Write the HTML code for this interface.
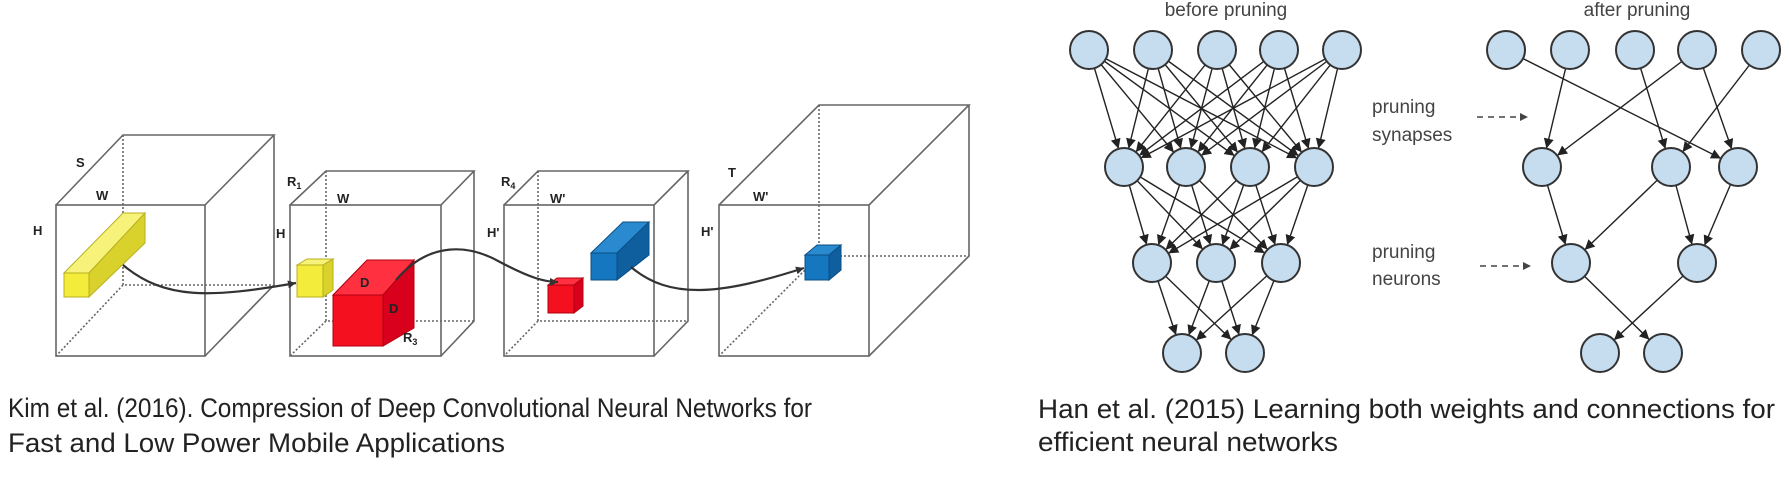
<!DOCTYPE html>
<html><head><meta charset="utf-8"><style>
html,body{margin:0;padding:0;background:#fff;}
svg{display:block;}
</style></head><body>
<svg width="1789" height="477" viewBox="0 0 1789 477" xmlns="http://www.w3.org/2000/svg">
<defs>
<marker id="a" markerUnits="userSpaceOnUse" markerWidth="40" markerHeight="12" refX="29" refY="5" orient="auto"><path d="M0,0 L10,5 L0,10 z" fill="#222"/></marker>
<marker id="b" markerUnits="userSpaceOnUse" markerWidth="12" markerHeight="12" refX="8" refY="4" orient="auto"><path d="M0,0 L8,4 L0,8 z" fill="#333"/></marker>
</defs>
<rect width="1789" height="477" fill="#fff"/>

<!-- cubes -->
<g fill="none" stroke="#666" stroke-width="1.6">
 <!-- cube1 -->
 <rect x="56" y="205" width="149" height="151"/>
 <path d="M56,205 L123,135 L274,135 L205,205 M274,135 L274,285 L205,356"/>
 <path d="M123,135 L123,285 L274,285 M123,285 L56,356" stroke-dasharray="2,2"/>
 <!-- cube2 -->
 <rect x="290" y="205" width="151" height="151"/>
 <path d="M290,205 L326,171 L474,171 L441,205 M474,171 L474,321 L441,356"/>
 <path d="M326,171 L326,321 L474,321 M326,321 L290,356" stroke-dasharray="2,2"/>
 <!-- cube3 -->
 <rect x="504" y="205" width="150" height="151"/>
 <path d="M504,205 L538,171 L688,171 L654,205 M688,171 L688,321 L654,356"/>
 <path d="M538,171 L538,321 L688,321 M538,321 L504,356" stroke-dasharray="2,2"/>
 <!-- cube4 -->
 <rect x="719" y="205" width="150" height="151"/>
 <path d="M719,205 L819,105 L969,105 L869,205 M969,105 L969,256 L869,356"/>
 <path d="M819,105 L819,256 L969,256 M819,256 L719,356" stroke-dasharray="2,2"/>
</g>

<!-- yellow bar -->
<g stroke="#b8b020" stroke-width="1">
 <polygon points="64,273 123,213 145,213 89,273" fill="#f7f27a"/>
 <polygon points="89,273 145,213 145,243 89,297" fill="#d9d22c"/>
 <rect x="64" y="273" width="25" height="24" fill="#f3ec3a"/>
</g>
<!-- small yellow -->
<g stroke="#b8b020" stroke-width="1">
 <polygon points="297,265 307,259 333,259 323,265" fill="#f7f27a"/>
 <polygon points="323,265 333,259 333,290 323,297" fill="#d9d22c"/>
 <rect x="297" y="265" width="26" height="32" fill="#f3ec3a"/>
</g>
<!-- big red -->
<g stroke="#b00010" stroke-width="1">
 <polygon points="333,295 367,260 414,260 383,295" fill="#ff3040"/>
 <polygon points="383,295 414,260 414,328 383,346" fill="#d8001c"/>
 <rect x="333" y="295" width="50" height="51" fill="#f5101f"/>
</g>
<!-- small red -->
<g stroke="#b00010" stroke-width="1">
 <polygon points="548,285 557,278 583,278 574,285" fill="#ff3040"/>
 <polygon points="574,285 583,278 583,306 574,313" fill="#d8001c"/>
 <rect x="548" y="285" width="26" height="28" fill="#f5101f"/>
</g>
<!-- blue bar -->
<g stroke="#0a4f86" stroke-width="1">
 <polygon points="591,253 623,222 649,222 617,253" fill="#2a8ad0"/>
 <polygon points="617,253 649,222 649,255 617,280" fill="#0f5f9e"/>
 <rect x="591" y="253" width="26" height="27" fill="#1577bf"/>
</g>
<!-- small blue -->
<g stroke="#0a4f86" stroke-width="1">
 <polygon points="805,255 817,245 841,245 829,255" fill="#2a8ad0"/>
 <polygon points="829,255 841,245 841,270 829,280" fill="#0f5f9e"/>
 <rect x="805" y="255" width="24" height="25" fill="#1577bf"/>
</g>

<!-- curves -->
<g fill="none" stroke="#333" stroke-width="2.2">
 <path d="M123,265 C165,300 210,298 296,283" marker-end="url(#b)"/>
 <path d="M396,280 C430,240 470,245 500,262 C530,278 545,282 558,282" marker-end="url(#b)"/>
 <path d="M631,267 C670,300 720,295 804,268" marker-end="url(#b)"/>
</g>

<!-- cube labels -->
<g font-family="Liberation Sans, sans-serif" font-weight="bold" font-size="13" fill="#222">
 <text x="76" y="167">S</text>
 <text x="96" y="200">W</text>
 <text x="33" y="235">H</text>
 <text x="287" y="186">R<tspan font-size="9" dy="3">1</tspan></text>
 <text x="337" y="203">W</text>
 <text x="276" y="238">H</text>
 <text x="501" y="186">R<tspan font-size="9" dy="3">4</tspan></text>
 <text x="550" y="203">W'</text>
 <text x="487" y="237">H'</text>
 <text x="728" y="177">T</text>
 <text x="753" y="201">W'</text>
 <text x="701" y="236">H'</text>
 <text x="360" y="287">D</text>
 <text x="389" y="313">D</text>
 <text x="403" y="342">R<tspan font-size="9" dy="3">3</tspan></text>
</g>

<!-- network before -->
<g stroke="#222" stroke-width="1.4" marker-end="url(#a)">
 <line x1="1089" y1="50" x2="1124" y2="167"/><line x1="1089" y1="50" x2="1186" y2="167"/><line x1="1089" y1="50" x2="1250" y2="167"/><line x1="1089" y1="50" x2="1314" y2="167"/>
 <line x1="1153" y1="50" x2="1124" y2="167"/><line x1="1153" y1="50" x2="1186" y2="167"/><line x1="1153" y1="50" x2="1250" y2="167"/><line x1="1153" y1="50" x2="1314" y2="167"/>
 <line x1="1217" y1="50" x2="1124" y2="167"/><line x1="1217" y1="50" x2="1186" y2="167"/><line x1="1217" y1="50" x2="1250" y2="167"/><line x1="1217" y1="50" x2="1314" y2="167"/>
 <line x1="1279" y1="50" x2="1124" y2="167"/><line x1="1279" y1="50" x2="1186" y2="167"/><line x1="1279" y1="50" x2="1250" y2="167"/><line x1="1279" y1="50" x2="1314" y2="167"/>
 <line x1="1342" y1="50" x2="1124" y2="167"/><line x1="1342" y1="50" x2="1186" y2="167"/><line x1="1342" y1="50" x2="1250" y2="167"/><line x1="1342" y1="50" x2="1314" y2="167"/>
 <line x1="1124" y1="167" x2="1152" y2="263"/><line x1="1124" y1="167" x2="1216" y2="263"/><line x1="1124" y1="167" x2="1281" y2="263"/>
 <line x1="1186" y1="167" x2="1152" y2="263"/><line x1="1186" y1="167" x2="1216" y2="263"/><line x1="1186" y1="167" x2="1281" y2="263"/>
 <line x1="1250" y1="167" x2="1152" y2="263"/><line x1="1250" y1="167" x2="1216" y2="263"/><line x1="1250" y1="167" x2="1281" y2="263"/>
 <line x1="1314" y1="167" x2="1152" y2="263"/><line x1="1314" y1="167" x2="1216" y2="263"/><line x1="1314" y1="167" x2="1281" y2="263"/>
 <line x1="1152" y1="263" x2="1182" y2="353"/><line x1="1152" y1="263" x2="1245" y2="353"/>
 <line x1="1216" y1="263" x2="1182" y2="353"/><line x1="1216" y1="263" x2="1245" y2="353"/>
 <line x1="1281" y1="263" x2="1182" y2="353"/><line x1="1281" y1="263" x2="1245" y2="353"/>
</g>
<!-- network after -->
<g stroke="#222" stroke-width="1.4" marker-end="url(#a)">
 <line x1="1506" y1="50" x2="1738" y2="167"/>
 <line x1="1570" y1="50" x2="1542" y2="167"/>
 <line x1="1635" y1="50" x2="1671" y2="167"/>
 <line x1="1697" y1="50" x2="1542" y2="167"/>
 <line x1="1697" y1="50" x2="1738" y2="167"/>
 <line x1="1761" y1="50" x2="1671" y2="167"/>
 <line x1="1542" y1="167" x2="1571" y2="263"/>
 <line x1="1671" y1="167" x2="1571" y2="263"/>
 <line x1="1671" y1="167" x2="1697" y2="263"/>
 <line x1="1738" y1="167" x2="1697" y2="263"/>
 <line x1="1571" y1="263" x2="1663" y2="353"/>
 <line x1="1697" y1="263" x2="1600" y2="353"/>
</g>
<g fill="#c6dcef" stroke="#333" stroke-width="2">
 <circle cx="1089" cy="50" r="19"/><circle cx="1153" cy="50" r="19"/><circle cx="1217" cy="50" r="19"/><circle cx="1279" cy="50" r="19"/><circle cx="1342" cy="50" r="19"/>
 <circle cx="1124" cy="167" r="19"/><circle cx="1186" cy="167" r="19"/><circle cx="1250" cy="167" r="19"/><circle cx="1314" cy="167" r="19"/>
 <circle cx="1152" cy="263" r="19"/><circle cx="1216" cy="263" r="19"/><circle cx="1281" cy="263" r="19"/>
 <circle cx="1182" cy="353" r="19"/><circle cx="1245" cy="353" r="19"/>
 <circle cx="1506" cy="50" r="19"/><circle cx="1570" cy="50" r="19"/><circle cx="1635" cy="50" r="19"/><circle cx="1697" cy="50" r="19"/><circle cx="1761" cy="50" r="19"/>
 <circle cx="1542" cy="167" r="19"/><circle cx="1671" cy="167" r="19"/><circle cx="1738" cy="167" r="19"/>
 <circle cx="1571" cy="263" r="19"/><circle cx="1697" cy="263" r="19"/>
 <circle cx="1600" cy="353" r="19"/><circle cx="1663" cy="353" r="19"/>
</g>

<g font-family="Liberation Sans, sans-serif" font-size="19" fill="#444">
 <text x="1226" y="16" text-anchor="middle">before pruning</text>
 <text x="1637" y="16" text-anchor="middle">after pruning</text>
 <text x="1372" y="113">pruning</text>
 <text x="1372" y="141">synapses</text>
 <text x="1372" y="258">pruning</text>
 <text x="1372" y="285">neurons</text>
</g>
<g stroke="#444" stroke-width="1.5" fill="none">
 <path d="M1477,117 L1522,117" stroke-dasharray="6,5"/>
 <path d="M1480,266 L1525,266" stroke-dasharray="6,5"/>
</g>
<path d="M1520,113 L1528,117 L1520,121 z" fill="#444"/>
<path d="M1523,262 L1531,266 L1523,270 z" fill="#444"/>

<!-- captions -->
<g font-family="Liberation Sans, sans-serif" font-size="27" fill="#222">
 <text x="8" y="417" textLength="804" lengthAdjust="spacingAndGlyphs">Kim et al. (2016). Compression of Deep Convolutional Neural Networks for</text>
 <text x="8" y="452" textLength="497" lengthAdjust="spacingAndGlyphs">Fast and Low Power Mobile Applications</text>
 <text x="1038" y="418" textLength="737" lengthAdjust="spacingAndGlyphs">Han et al. (2015) Learning both weights and connections for</text>
 <text x="1038" y="451" textLength="300" lengthAdjust="spacingAndGlyphs">efficient neural networks</text>
</g>
</svg>
</body></html>
